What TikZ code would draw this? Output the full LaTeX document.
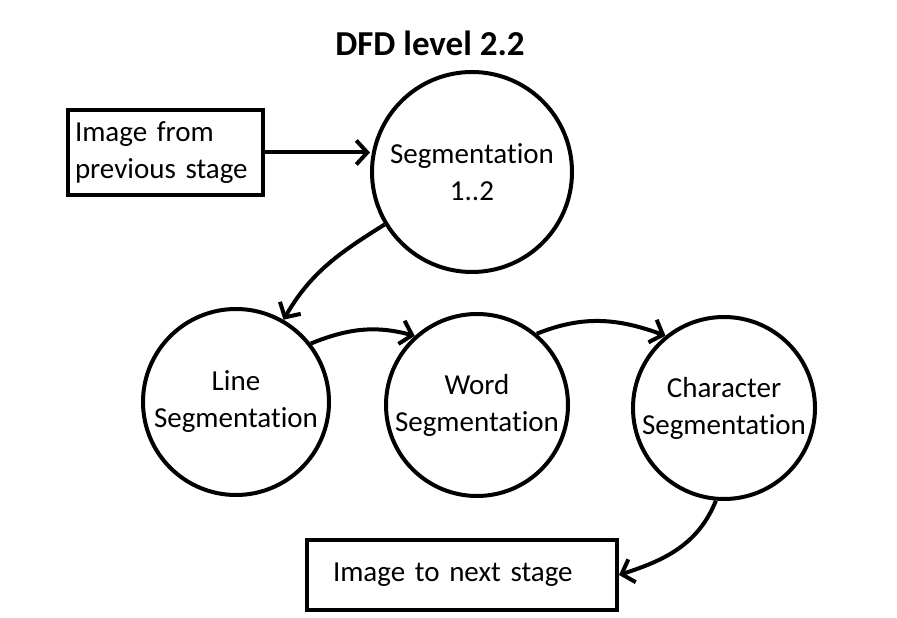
\documentclass[tikz,border=0pt]{standalone}
\usepackage{fontspec}
\setmainfont{Carlito}[Ligatures=NoCommon]
\usepackage{tikz}
\usetikzlibrary{arrows.meta}

\begin{document}
\begin{tikzpicture}[
  x=1pt, y=1pt,
  box/.style={rectangle, draw, line width=4pt, align=left, font=\fontsize{29}{37}\selectfont},
  process/.style={circle, draw, line width=4pt, align=center, inner sep=0pt, font=\fontsize{29}{37}\selectfont},
  arrow/.style={-{Straight Barb[length=11pt, width=24pt]}, line width=4pt}
]
  \useasboundingbox (0,0) rectangle (897,618);

  % Title
  \node[font=\bfseries\fontsize{35}{40}\selectfont] (title) at (430,575) {DFD level 2.2};

  % Input image
  \node[box, minimum width=195, minimum height=85, text width=181, inner xsep=7pt] (input) at (165.5,465.5) {Image from\\previous stage};

  % Segmentation
  \node[process, minimum size=200] (seg) at (472,446) {Segmentation\\1..2};

  % Sub processes
  \node[process, minimum size=186] (line) at (236,216) {Line\\Segmentation};
  \node[process, minimum size=182] (word) at (477,213) {Word\\Segmentation};
  \node[process, minimum size=182] (char) at (724,210) {Character\\Segmentation};

  % Output image
  \node[box, minimum width=310, minimum height=70, text width=258, inner xsep=26pt] (output) at (462,43) {Image to next stage};

  \draw[arrow] (input.east) -- (input.east -| seg.west);
  \draw[arrow] (seg.211) to[out=212, in=60] (line.60);
  \draw[arrow] (line.38) to[out=22, in=165] (word.132);
  \draw[arrow] (word.50) to[out=22, in=160] (char.129);
  \draw[arrow] (char.265) to[out=248, in=18] (output.east);
\end{tikzpicture}
\end{document}
